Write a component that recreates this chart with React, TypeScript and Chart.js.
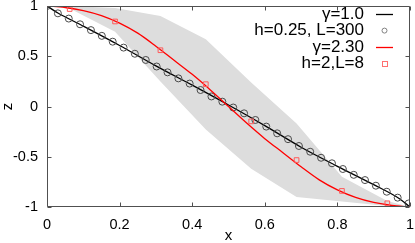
import React, { useEffect, useRef } from 'react';
import { Chart, registerables } from 'chart.js';
Chart.register(...registerables);

const FONT = '"Liberation Sans", Arial, sans-serif';

const xTicks = [0, 0.2, 0.4, 0.6, 0.8, 1];
const zTicks = [-1, -0.5, 0, 0.5, 1];

const bandX = [0, 0.0625, 0.1875, 0.3125, 0.4375, 0.5625, 0.6875, 0.8125, 0.9375, 1];
const bandUpper = [1, 1, 0.98, 0.9, 0.67, 0.24, -0.17, -0.7, -0.94, -1];
const bandLower = [1, 0.975, 0.745, 0.25, -0.23, -0.62, -0.9, -0.945, -0.99, -1];

const gamma1X = [0, 0.03, 0.1, 0.2, 0.3, 0.4, 0.5, 0.6, 0.7, 0.8, 0.9, 0.97, 1];
const gamma1Z = [1, 0.93, 0.8, 0.607, 0.404, 0.212, 0.015, -0.19, -0.405, -0.595, -0.778, -0.915, -1];

const gamma23X = [0, 0.05, 0.1, 0.15, 0.2, 0.25, 0.3, 0.35, 0.4, 0.45, 0.5, 0.55, 0.6, 0.65, 0.7, 0.75, 0.8, 0.85, 0.9, 0.95, 1];
const gamma23Z = [1, 0.985, 0.955, 0.905, 0.83, 0.73, 0.6, 0.46, 0.32, 0.165, 0, -0.165, -0.32, -0.46, -0.6, -0.73, -0.83, -0.905, -0.955, -0.985, -1];

const circleX = [0, 0.03, 0.06, 0.091, 0.121, 0.151, 0.181, 0.211, 0.242, 0.272, 0.302, 0.332, 0.362, 0.393, 0.423, 0.453, 0.483, 0.513, 0.543, 0.574, 0.604, 0.634, 0.664, 0.694, 0.725, 0.755, 0.785, 0.815, 0.845, 0.876, 0.906, 0.936, 0.966, 0.996];
const circleZ = [1, 0.927, 0.875, 0.818, 0.76, 0.703, 0.645, 0.586, 0.525, 0.463, 0.398, 0.34, 0.28, 0.228, 0.164, 0.1, 0.048, -0.01, -0.068, -0.134, -0.2, -0.267, -0.325, -0.393, -0.45, -0.51, -0.565, -0.622, -0.68, -0.732, -0.788, -0.848, -0.907, -0.965];

const squareX = [0.0625, 0.1875, 0.3125, 0.4375, 0.5625, 0.6875, 0.8125, 0.9375];
const squareZ = [0.97, 0.846, 0.56, 0.222, -0.148, -0.533, -0.84, -0.963];

const legendLabels = ['\u03b3=1.0', 'h=0.25, L=300', '\u03b3=2.30', 'h=2,L=8'];

const pts = (xs: number[], ys: number[]) => xs.map((x, i) => ({ x, y: ys[i] }));

const framePlugin = {
  id: 'frame',
  afterDraw(chart: any) {
    const { ctx, chartArea: a, scales } = chart;
    const xs = scales.x;
    const ys = scales.y;
    ctx.save();
    ctx.strokeStyle = '#505050';
    ctx.lineWidth = 1;
    const L = Math.round(a.left) + 0.5;
    const R = Math.round(a.right) - 0.5;
    const T = Math.round(a.top) + 0.5;
    const B = Math.round(a.bottom) - 0.5;
    ctx.beginPath();
    ctx.rect(L, T, R - L, B - T);
    ctx.stroke();
    const tl = 4;
    ctx.beginPath();
    xTicks.forEach((v) => {
      const px = Math.round(xs.getPixelForValue(v)) + 0.5;
      ctx.moveTo(px, B); ctx.lineTo(px, B - tl);
      ctx.moveTo(px, T); ctx.lineTo(px, T + tl);
    });
    zTicks.forEach((v) => {
      const py = Math.round(ys.getPixelForValue(v)) + 0.5;
      ctx.moveTo(L, py); ctx.lineTo(L + tl, py);
      ctx.moveTo(R, py); ctx.lineTo(R - tl, py);
    });
    ctx.stroke();

    // axis titles
    ctx.fillStyle = '#000';
    ctx.font = '15px ' + FONT;
    ctx.textAlign = 'center';
    ctx.textBaseline = 'middle';
    ctx.fillText('x', (a.left + a.right) / 2, 236);
    ctx.save();
    ctx.translate(8, (a.top + a.bottom) / 2);
    ctx.rotate(-Math.PI / 2);
    ctx.fillText('z', 0, 0);
    ctx.restore();

    // legend
    ctx.font = '17px ' + FONT;
    ctx.textAlign = 'right';
    const textRight = 364;
    const s0 = 376, s1 = 393;
    legendLabels.forEach((lab, i) => {
      const y = 14 + i * 16.6;
      ctx.fillStyle = '#000';
      ctx.fillText(lab, textRight, y);
      if (i === 0 || i === 2) {
        ctx.strokeStyle = i === 0 ? '#000' : '#ff0000';
        ctx.lineWidth = 1.3;
        ctx.beginPath();
        ctx.moveTo(s0, Math.round(y) + 0.5);
        ctx.lineTo(s1, Math.round(y) + 0.5);
        ctx.stroke();
      } else if (i === 1) {
        ctx.strokeStyle = '#808080';
        ctx.lineWidth = 1;
        ctx.beginPath();
        ctx.arc((s0 + s1) / 2, y, 2.5, 0, Math.PI * 2);
        ctx.stroke();
      } else {
        ctx.strokeStyle = '#ff7070';
        ctx.lineWidth = 1;
        ctx.strokeRect(Math.round((s0 + s1) / 2) - 2.5, Math.round(y) - 2.5, 5, 5);
      }
    });
    ctx.restore();
  },
};

export default function App() {
  const ref = useRef<HTMLCanvasElement | null>(null);
  useEffect(() => {
    if (!ref.current) return;
    Chart.defaults.font.family = FONT;
    const chart = new Chart(ref.current, {
      type: 'scatter',
      data: {
        datasets: [
          {
            label: 'h=2,L=8',
            data: pts(squareX, squareZ),
            showLine: false,
            pointStyle: 'rect',
            pointRadius: 3.3,
            borderColor: '#ff5a5a',
            backgroundColor: 'rgba(0,0,0,0)',
            borderWidth: 1,
            order: 0,
          },
          {
            label: '\u03b3=2.30',
            data: pts(gamma23X, gamma23Z),
            showLine: true,
            borderColor: '#ff0000',
            borderWidth: 1.3,
            pointRadius: 0,
            cubicInterpolationMode: 'monotone',
            fill: false,
            order: 1,
          },
          {
            label: 'h=0.25, L=300',
            data: pts(circleX, circleZ),
            showLine: false,
            pointStyle: 'circle',
            pointRadius: 3.5,
            borderColor: '#4a4a4a',
            backgroundColor: 'rgba(0,0,0,0)',
            borderWidth: 1,
            order: 2,
          },
          {
            label: '\u03b3=1.0',
            data: pts(gamma1X, gamma1Z),
            showLine: true,
            borderColor: '#000000',
            borderWidth: 1.3,
            pointRadius: 0,
            cubicInterpolationMode: 'monotone',
            fill: false,
            order: 3,
          },
          {
            label: 'band upper',
            data: pts(bandX, bandUpper),
            showLine: true,
            borderWidth: 0,
            borderColor: 'rgba(0,0,0,0)',
            pointRadius: 0,
            backgroundColor: '#dddddd',
            fill: '+1',
            tension: 0,
            order: 10,
          },
          {
            label: 'band lower',
            data: pts(bandX, bandLower),
            showLine: true,
            borderWidth: 0,
            borderColor: 'rgba(0,0,0,0)',
            pointRadius: 0,
            fill: false,
            tension: 0,
            order: 11,
          },
        ],
      },
      options: {
        animation: false,
        responsive: false,
        devicePixelRatio: 1,
        layout: { padding: { top: 6, right: 4, left: 0, bottom: 0 } },
        plugins: { legend: { display: false }, tooltip: { enabled: false } },
        scales: {
          x: {
            type: 'linear',
            min: 0,
            max: 1,
            border: { display: false },
            grid: { display: false, drawTicks: false },
            afterBuildTicks: (s: any) => { s.ticks = xTicks.map((v) => ({ value: v })); },
            afterFit: (s: any) => { s.height = 36; s.paddingLeft = 0; s.paddingRight = 0; },
            ticks: {
              padding: 9,
              color: '#000',
              font: { size: 14.5, family: FONT },
              maxRotation: 0,
              callback: (v: any) => String(Math.round(Number(v) * 10) / 10),
            },
          },
          y: {
            type: 'linear',
            min: -1,
            max: 1,
            border: { display: false },
            grid: { display: false, drawTicks: false },
            afterBuildTicks: (s: any) => { s.ticks = zTicks.map((v) => ({ value: v })); },
            afterFit: (s: any) => { s.width = 47; s.paddingTop = 0; s.paddingBottom = 0; },
            ticks: {
              padding: 9,
              color: '#000',
              font: { size: 14.5, family: FONT },
              callback: (v: any) => String(Math.round(Number(v) * 10) / 10),
            },
          },
        },
      },
      plugins: [framePlugin],
    } as any);
    return () => chart.destroy();
  }, []);
  return (
    <div style={{ position: 'fixed', left: 0, top: 0, width: 415, height: 243, background: '#fff' }}>
      <canvas ref={ref} width={415} height={243} style={{ width: 415, height: 243, display: 'block' }} />
    </div>
  );
}
